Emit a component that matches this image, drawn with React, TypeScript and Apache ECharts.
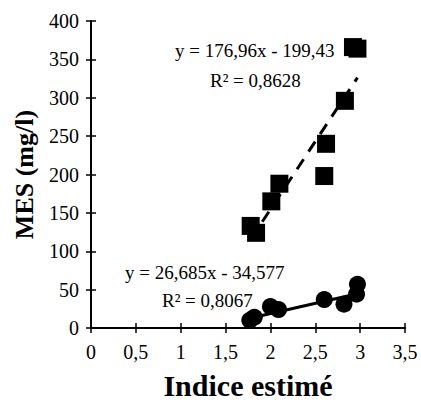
import React, { useEffect, useRef } from "react";
import * as echarts from "echarts";

const squareX = [1.78, 1.84, 2.01, 2.1, 2.6, 2.62, 2.83, 2.92, 2.97];
const squareY = [133, 124, 165, 188, 198, 240, 296, 366, 364];
const circleX = [1.77, 1.82, 2.0, 2.09, 2.6, 2.82, 2.96, 2.97];
const circleY = [10, 14, 28, 24, 37, 31, 44, 57];
const squareFit = { slope: 176.96, intercept: -199.43, eq: "y = 176,96x - 199,43", r2: "R² = 0,8628" };
const circleFit = { slope: 26.685, intercept: -34.577, eq: "y = 26,685x - 34,577", r2: "R² = 0,8067" };

const fmt = (v: number) => String(v).replace(".", ",");

function fitLine(xs: number[], fit: { slope: number; intercept: number }) {
  const lo = Math.min(...xs);
  const hi = Math.max(...xs);
  return [lo, hi].map((x) => [x, fit.slope * x + fit.intercept]);
}

export default function App() {
  const ref = useRef<HTMLDivElement>(null);
  useEffect(() => {
    if (!ref.current) return;
    document.body.style.margin = "0";
    const chart = echarts.init(ref.current, null, { renderer: "svg" });
    const font = "'Liberation Serif', 'Times New Roman', serif";
    const tick = { color: "#000", width: 1.5 };
    const txt = (text: string, x: number, y: number) => ({
      type: "text",
      x,
      y,
      style: { text, font: `19px ${font}`, fill: "#000", textAlign: "left", textVerticalAlign: "middle" },
    });
    chart.setOption({
      animation: false,
      backgroundColor: "#fff",
      grid: { left: 91, right: 16, top: 21, bottom: 75, containLabel: false, outerBoundsMode: "none" },
      xAxis: [
        {
          type: "value",
          min: 0,
          max: 3.5,
          interval: 0.5,
          position: "bottom",
          axisLine: { show: true, lineStyle: { color: "#000", width: 2 } },
          splitLine: { show: false },
          axisTick: { show: true, inside: false, length: 5, lineStyle: tick },
          axisLabel: { color: "#000", fontFamily: font, fontSize: 20, margin: 14, formatter: (v: number) => fmt(v) },
          name: "Indice estimé",
          nameLocation: "middle",
          nameGap: 42,
          nameTextStyle: { color: "#000", fontFamily: font, fontSize: 30, fontWeight: "bold" },
        },
        {
          type: "value",
          min: 0,
          max: 3.5,
          interval: 0.5,
          position: "bottom",
          axisLine: { show: false },
          axisTick: { show: true, inside: true, length: 5, lineStyle: tick },
          axisLabel: { show: false },
          splitLine: { show: false },
        },
      ],
      yAxis: [
        {
          type: "value",
          min: 0,
          max: 400,
          interval: 50,
          position: "left",
          axisLine: { show: true, lineStyle: { color: "#000", width: 2 } },
          splitLine: { show: false },
          axisTick: { show: true, inside: false, length: 5, lineStyle: tick },
          axisLabel: { color: "#000", fontFamily: font, fontSize: 20, margin: 12 },
          name: "MES (mg/l)",
          nameLocation: "middle",
          nameGap: 54,
          nameTextStyle: { color: "#000", fontFamily: font, fontSize: 26, fontWeight: "bold" },
        },
        {
          type: "value",
          min: 0,
          max: 400,
          interval: 50,
          position: "left",
          axisLine: { show: false },
          axisTick: { show: true, inside: true, length: 5, lineStyle: tick },
          axisLabel: { show: false },
          splitLine: { show: false },
        },
      ],
      series: [
        {
          type: "line",
          data: fitLine(squareX, squareFit),
          showSymbol: false,
          lineStyle: { color: "#000", width: 3, type: [12, 9] },
          z: 1,
        },
        {
          type: "line",
          data: fitLine(circleX, circleFit),
          showSymbol: false,
          lineStyle: { color: "#000", width: 3 },
          z: 1,
        },
        {
          type: "scatter",
          data: squareX.map((x, i) => [x, squareY[i]]),
          symbol: "rect",
          symbolSize: 18,
          itemStyle: { color: "#000", opacity: 1 },
          z: 2,
        },
        {
          type: "scatter",
          data: circleX.map((x, i) => [x, circleY[i]]),
          symbol: "circle",
          symbolSize: 17,
          itemStyle: { color: "#000", opacity: 1 },
          z: 2,
        },
      ],
      graphic: [
        txt(squareFit.eq, 175, 50),
        txt(squareFit.r2, 210, 80),
        txt(circleFit.eq, 125, 272),
        txt(circleFit.r2, 162, 300),
      ],
    });
    return () => chart.dispose();
  }, []);
  return <div ref={ref} style={{ width: 421, height: 403 }} />;
}
